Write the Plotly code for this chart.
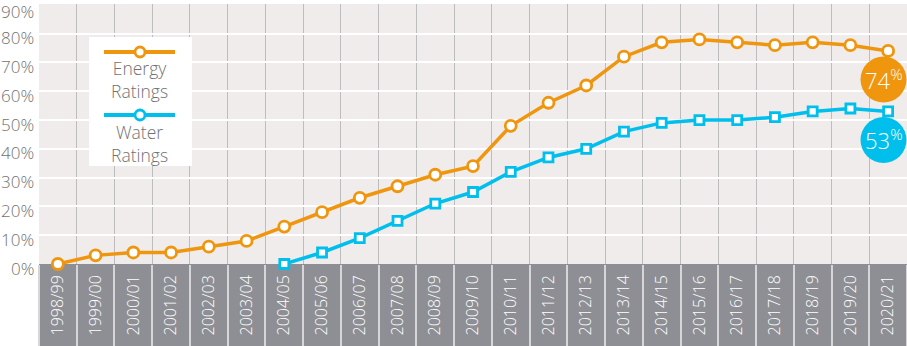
import plotly.graph_objects as go

years = ["1998/99", "1999/00", "2000/01", "2001/02", "2002/03", "2003/04", "2004/05",
         "2005/06", "2006/07", "2007/08", "2008/09", "2009/10", "2010/11", "2011/12",
         "2012/13", "2013/14", "2014/15", "2015/16", "2016/17", "2017/18", "2018/19",
         "2019/20", "2020/21"]
energy = [0, 3, 4, 4, 6, 8, 13, 18, 23, 27, 31, 34, 48, 56, 62, 72, 77, 78, 77, 76, 77, 76, 74]
water_years = years[6:]
water = [0, 4, 9, 15, 21, 25, 32, 37, 40, 46, 49, 50, 50, 51, 53, 54, 53]
y_ticks = [0, 10, 20, 30, 40, 50, 60, 70, 80, 90]
y_ticktext = [f"{v}%" for v in y_ticks]

ORANGE = "#EF960E"
CYAN = "#00BFEC"
BG = "#EFECEB"
BAND = "#8E8F94"
GREY_TXT = "#727272"
FONT = "Open Sans"

W, H = 907, 346
ML, MR, MT, MB = 39, 0, 4, 82
PW, PH = W - ML - MR, H - MT - MB
Y_MAX = 90.3


def px(x):
    return (x - ML) / PW


def py(y):
    return (H - MB - y) / PH


fig = go.Figure()
fig.add_trace(go.Scatter(
    x=years, y=energy, mode="lines+markers", name="Energy Ratings",
    line=dict(color=ORANGE, width=3.5),
    marker=dict(symbol="circle", size=11, color="white", line=dict(color=ORANGE, width=2.8)),
    cliponaxis=False, showlegend=False))
fig.add_trace(go.Scatter(
    x=water_years, y=water, mode="lines+markers", name="Water Ratings",
    line=dict(color=CYAN, width=3.5),
    marker=dict(symbol="square", size=9, color="white", line=dict(color=CYAN, width=2.8)),
    cliponaxis=False, showlegend=False))

shapes = []
shapes.append(dict(type="rect", xref="paper", yref="paper", x0=0, x1=1, y0=py(H), y1=0,
                   fillcolor=BAND, line=dict(width=0), layer="below"))
shapes.append(dict(type="rect", xref="paper", yref="paper", x0=px(89), x1=px(192),
                   y0=py(166), y1=py(37), fillcolor="white", line=dict(width=0), layer="above"))
for ly, col in [(52, ORANGE), (115, CYAN)]:
    shapes.append(dict(type="line", xref="paper", yref="paper", x0=px(104), x1=px(175),
                       y0=py(ly), y1=py(ly), line=dict(color=col, width=4), layer="above"))
    shapes.append(dict(type="circle", xref="paper", yref="paper", xsizemode="pixel",
                       ysizemode="pixel", xanchor=px(140), yanchor=py(ly),
                       x0=-5, x1=5, y0=-5, y1=5, fillcolor="white",
                       line=dict(color=col, width=2.8), layer="above"))
for cy, col in [(79.5, ORANGE), (140, CYAN)]:
    shapes.append(dict(type="circle", xref="paper", yref="paper", xsizemode="pixel",
                       ysizemode="pixel", xanchor=px(883.5), yanchor=py(cy),
                       x0=-23, x1=23, y0=-23, y1=23, fillcolor=col,
                       line=dict(width=0), layer="above"))

annotations = []
# y tick labels (sit slightly below their gridlines, as in the original)
for v, t in zip(y_ticks, y_ticktext):
    annotations.append(dict(xref="paper", yref="y", x=0, y=v, text=t, showarrow=False,
                            xanchor="right", yanchor="middle", xshift=-3,
                            yshift=-4 if v < max(y_ticks) else -7,
                            font=dict(family=FONT, size=17, color=GREY_TXT, weight=300)))
for ty, txt in [(80, "Energy<br>Ratings"), (143, "Water<br>Ratings")]:
    annotations.append(dict(xref="paper", yref="paper", x=px(139), y=py(ty), text=txt,
                            showarrow=False, xanchor="center", yanchor="middle",
                            font=dict(family=FONT, size=17.5, color=GREY_TXT, weight=300),
                            align="center"))
for cy, val in [(79.5, energy[-1]), (140, water[-1])]:
    annotations.append(dict(xref="paper", yref="paper", x=px(883.5), y=py(cy),
                            text=f"{val}<sup>%</sup>", showarrow=False,
                            xanchor="center", yanchor="middle",
                            font=dict(family=FONT, size=22, color="white", weight=300)))

fig.update_layout(
    width=W, height=H,
    margin=dict(l=ML, r=MR, t=MT, b=MB),
    paper_bgcolor="white", plot_bgcolor=BG,
    shapes=shapes, annotations=annotations,
    showlegend=False,
    xaxis=dict(type="category", categoryorder="array", categoryarray=years,
               tickson="boundaries", showgrid=True, gridcolor="#bdbdbd", gridwidth=1,
               ticks="", tickangle=-90,
               tickfont=dict(family=FONT, size=16, color="white", weight=300),
               ticklabelstandoff=7, showline=False, zeroline=False,
               range=[-0.5, len(years) - 0.5]),
    xaxis2=dict(type="category", categoryorder="array", categoryarray=years,
                overlaying="x", matches="x", side="bottom", tickson="boundaries",
                ticks="outside", ticklen=MB, tickcolor="#d6d6d8", tickwidth=1.5,
                showticklabels=False, showgrid=False, zeroline=False, showline=False),
    yaxis=dict(range=[0, Y_MAX], tickvals=y_ticks, showticklabels=False,
               showgrid=True, gridcolor="white", gridwidth=2, zeroline=False, ticks=""),
)
fig.add_trace(go.Scatter(x=years, y=[None] * len(years), xaxis="x2", showlegend=False,
                         hoverinfo="skip"))

fig.write_html("out.html")
